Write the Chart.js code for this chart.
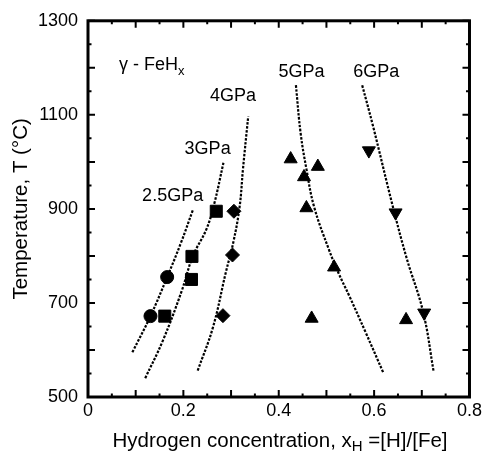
<!DOCTYPE html>
<html lang="en">
<head>
<meta charset="UTF-8">
<title>gamma-FeHx</title>
<script src="https://cdn.jsdelivr.net/npm/chart.js"></script>
<style>
  html, body { margin: 0; padding: 0; background: #fff; }
  #wrap { width: 485px; height: 459px; }
</style>
</head>
<body>
<div id="wrap"><canvas id="chart" width="485" height="459"></canvas></div>
<script>
// measured points, [x_H, T in C]
var circles   = [[0.131, 672], [0.166, 755]];
var squares   = [[0.161, 672], [0.218, 799], [0.217, 750], [0.269, 895]];
var diamonds  = [[0.283, 673], [0.303, 802], [0.306, 895]];
var triUp     = [[0.425, 1006], [0.482, 990], [0.453, 968], [0.458, 902], [0.516, 776], [0.469, 667], [0.667, 664]];
var triDown   = [[0.589, 1024], [0.645, 892], [0.705, 679]];

// dashed guide curves
var line25 = [[0.093, 595], [0.131, 672], [0.166, 755], [0.195, 828], [0.220, 898]];
var line3  = [[0.120, 540], [0.157, 620], [0.196, 724], [0.220, 800], [0.248, 856], [0.265, 912], [0.284, 998]];
var line4  = [[0.230, 556], [0.262, 648], [0.289, 765], [0.305, 830], [0.318, 905], [0.325, 985], [0.336, 1097]];
var line5  = [[0.436, 1163], [0.446, 1060], [0.458, 985], [0.474, 905], [0.505, 814], [0.526, 762], [0.547, 717], [0.582, 638], [0.620, 550]];
var line6  = [[0.575, 1163], [0.598, 1075], [0.638, 910], [0.668, 796], [0.703, 680], [0.725, 553]];

var xTicks = [0, 0.2, 0.4, 0.6, 0.8];
var yTicks = [500, 700, 900, 1100, 1300];

// text labels: [text, x_H, T]
var curveLabels = [['2.5GPa', 0.1135, 916], ['3GPa', 0.2026, 1017], ['4GPa', 0.256, 1130], ['5GPa', 0.3996, 1181], ['6GPa', 0.556, 1181]];

function pts(arr) {
  return arr.map(function (p) { return { x: p[0], y: p[1] }; });
}

function curve(arr) {
  return {
    data: pts(arr), showLine: true, pointRadius: 0, borderColor: '#000',
    borderWidth: 2.2, borderDash: [2.5, 1.5], tension: 0.4, fill: false
  };
}

function marks(arr, style, r, rot) {
  return {
    data: pts(arr), showLine: false, pointStyle: style, pointRadius: r,
    pointRotation: rot || 0, backgroundColor: '#000', borderColor: '#000', borderWidth: 1
  };
}

var FONT = '"Liberation Sans", Arial, Helvetica, sans-serif';

var framePlugin = {
  id: 'frame',
  afterDraw: function (chart) {
    var ctx = chart.ctx, a = chart.chartArea;
    var xs = chart.scales.x, ys = chart.scales.y;
    ctx.save();
    ctx.strokeStyle = '#000';
    // inward ticks on all four sides
    ctx.lineWidth = 2;
    for (var i = 0; i <= 16; i++) {
      var v = i * 0.05, px = xs.getPixelForValue(v), len = (i % 2 === 0) ? 7 : 3.5;
      ctx.beginPath();
      ctx.moveTo(px, a.bottom); ctx.lineTo(px, a.bottom - len);
      ctx.moveTo(px, a.top); ctx.lineTo(px, a.top + len);
      ctx.stroke();
    }
    for (var t = 500; t <= 1300; t += 50) {
      var py = ys.getPixelForValue(t), l = (t % 100 === 0) ? 7 : 3.5;
      ctx.beginPath();
      ctx.moveTo(a.left, py); ctx.lineTo(a.left + l, py);
      ctx.moveTo(a.right, py); ctx.lineTo(a.right - l, py);
      ctx.stroke();
    }
    ctx.lineWidth = 3;
    ctx.strokeRect(a.left, a.top, a.right - a.left, a.bottom - a.top);

    // curve labels
    ctx.fillStyle = '#000';
    ctx.textBaseline = 'alphabetic';
    ctx.textAlign = 'left';
    ctx.font = '18px ' + FONT;
    curveLabels.forEach(function (c) {
      ctx.fillText(c[0], xs.getPixelForValue(c[1]), ys.getPixelForValue(c[2]));
    });

    // gamma - FeHx
    var gx = xs.getPixelForValue(0.065), gy = ys.getPixelForValue(1195);
    ctx.font = '18px ' + FONT;
    var s1 = '\u03b3 - FeH';
    ctx.fillText(s1, gx, gy);
    var w1 = ctx.measureText(s1).width;
    ctx.font = '13px ' + FONT;
    ctx.fillText('x', gx + w1, gy + 5);

    // x axis title with subscript
    var parts = [['Hydrogen concentration, x', 20.5, 0], ['H', 15, 4], [' =[H]/[Fe]', 20.5, 0]];
    var total = 0;
    parts.forEach(function (p) { ctx.font = p[1] + 'px ' + FONT; total += ctx.measureText(p[0]).width; });
    var tx = 280 - total / 2, ty = 447;
    parts.forEach(function (p) {
      ctx.font = p[1] + 'px ' + FONT;
      ctx.fillText(p[0], tx, ty + p[2]);
      tx += ctx.measureText(p[0]).width;
    });
    ctx.restore();
  }
};

new Chart(document.getElementById('chart'), {
  type: 'scatter',
  data: {
    datasets: [
      curve(line25), curve(line3), curve(line4), curve(line5), curve(line6),
      marks(circles, 'circle', 6.5),
      marks(squares, 'rect', 8.5),
      marks(diamonds, 'rectRot', 7),
      marks(triUp, 'triangle', 7.5),
      marks(triDown, 'triangle', 7.5, 180)
    ]
  },
  options: {
    responsive: false,
    animation: false,
    layout: { padding: { top: 14.5, right: 14, left: 0, bottom: 0 } },
    plugins: { legend: { display: false }, tooltip: { enabled: false } },
    scales: {
      x: {
        type: 'linear', min: 0, max: 0.8,
        grid: { display: false, drawTicks: false },
        border: { display: false },
        afterBuildTicks: function (s) { s.ticks = xTicks.map(function (v) { return { value: v }; }); },
        ticks: { color: '#000', padding: 3, maxRotation: 0, font: { size: 18, family: FONT },
          callback: function (v) { return String(Math.round(v * 10) / 10); } },
        afterFit: function (s) { s.height = 62; }
      },
      y: {
        type: 'linear', min: 500, max: 1300,
        grid: { display: false, drawTicks: false },
        border: { display: false },
        afterBuildTicks: function (s) { s.ticks = yTicks.map(function (v) { return { value: v }; }); },
        ticks: { color: '#000', padding: 10, font: { size: 18, family: FONT },
          callback: function (v) { return String(v); } },
        title: { display: true, text: 'Temperature, T (\u00b0C)', color: '#000', padding: { top: 9.5, bottom: 0 }, font: { size: 20.5, family: FONT } },
        afterFit: function (s) { s.width = 88; }
      }
    }
  },
  plugins: [framePlugin]
});
</script>
</body>
</html>
